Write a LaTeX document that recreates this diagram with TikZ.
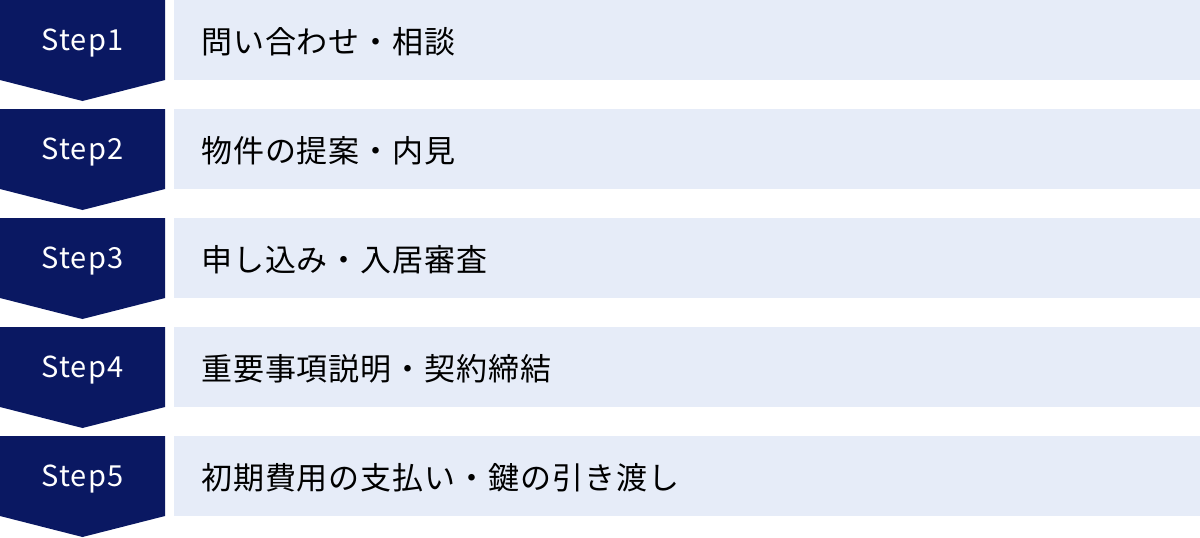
\documentclass[tikz,border=0pt]{standalone}
\usepackage{fontspec}
\setmainfont{Noto Sans CJK JP}
\newfontfamily\stepfont[LetterSpace=4]{Noto Sans CJK JP}
\newfontfamily\rowfont[LetterSpace=3]{Noto Sans CJK JP}
\usetikzlibrary{positioning}
\definecolor{stepnavy}{HTML}{0A1862}
\definecolor{rowblue}{HTML}{E6ECF8}
\tikzset{
  steplabel/.style={text=white, font=\stepfont\fontsize{29}{34}\selectfont, inner sep=0pt},
  rowbox/.style={fill=rowblue, draw=none, minimum width=1026pt, minimum height=80pt, anchor=north west, inner sep=0pt},
  rowtext/.style={font=\rowfont\fontsize{31}{36}\selectfont, text=black, inner sep=0pt, anchor=west}
}
\begin{document}
\begin{tikzpicture}[x=1pt, y=-1pt]
        \useasboundingbox (0,0) rectangle (1200,538);

        % Step arrows
        \fill[stepnavy] (0,0) -- (165,0) -- (165,80) -- (82.5,101) -- (0,80) -- cycle;
        \fill[stepnavy] (0,109) -- (165,109) -- (165,189) -- (82.5,210) -- (0,189) -- cycle;
        \fill[stepnavy] (0,218) -- (165,218) -- (165,298) -- (82.5,319) -- (0,298) -- cycle;
        \fill[stepnavy] (0,327) -- (165,327) -- (165,407) -- (82.5,428) -- (0,407) -- cycle;
        \fill[stepnavy] (0,436) -- (165,436) -- (165,516) -- (82.5,537) -- (0,516) -- cycle;

        % Step labels
        \node[steplabel] (s1) at (82.5,43) {Step1};
        \node[steplabel] (s2) at (82.5,152) {Step2};
        \node[steplabel] (s3) at (82.5,261) {Step3};
        \node[steplabel] (s4) at (82.5,370) {Step4};
        \node[steplabel] (s5) at (82.5,479) {Step5};

        % Rows
        \node[rowbox] (r1) at (174,0) {};
        \node[rowbox] (r2) at (174,109) {};
        \node[rowbox] (r3) at (174,218) {};
        \node[rowbox] (r4) at (174,327) {};
        \node[rowbox] (r5) at (174,436) {};

        % Texts
        \node[rowtext] (t1) at ([xshift=27pt, yshift=-2pt]r1.west) {問い合わせ・相談};
        \node[rowtext] (t2) at ([xshift=27pt, yshift=-2pt]r2.west) {物件の提案・内見};
        \node[rowtext] (t3) at ([xshift=27pt, yshift=-2pt]r3.west) {申し込み・入居審査};
        \node[rowtext] (t4) at ([xshift=27pt, yshift=-2pt]r4.west) {重要事項説明・契約締結};
        \node[rowtext] (t5) at ([xshift=27pt, yshift=-2pt]r5.west) {初期費用の支払い・鍵の引き渡し};
    \end{tikzpicture}
\end{document}
